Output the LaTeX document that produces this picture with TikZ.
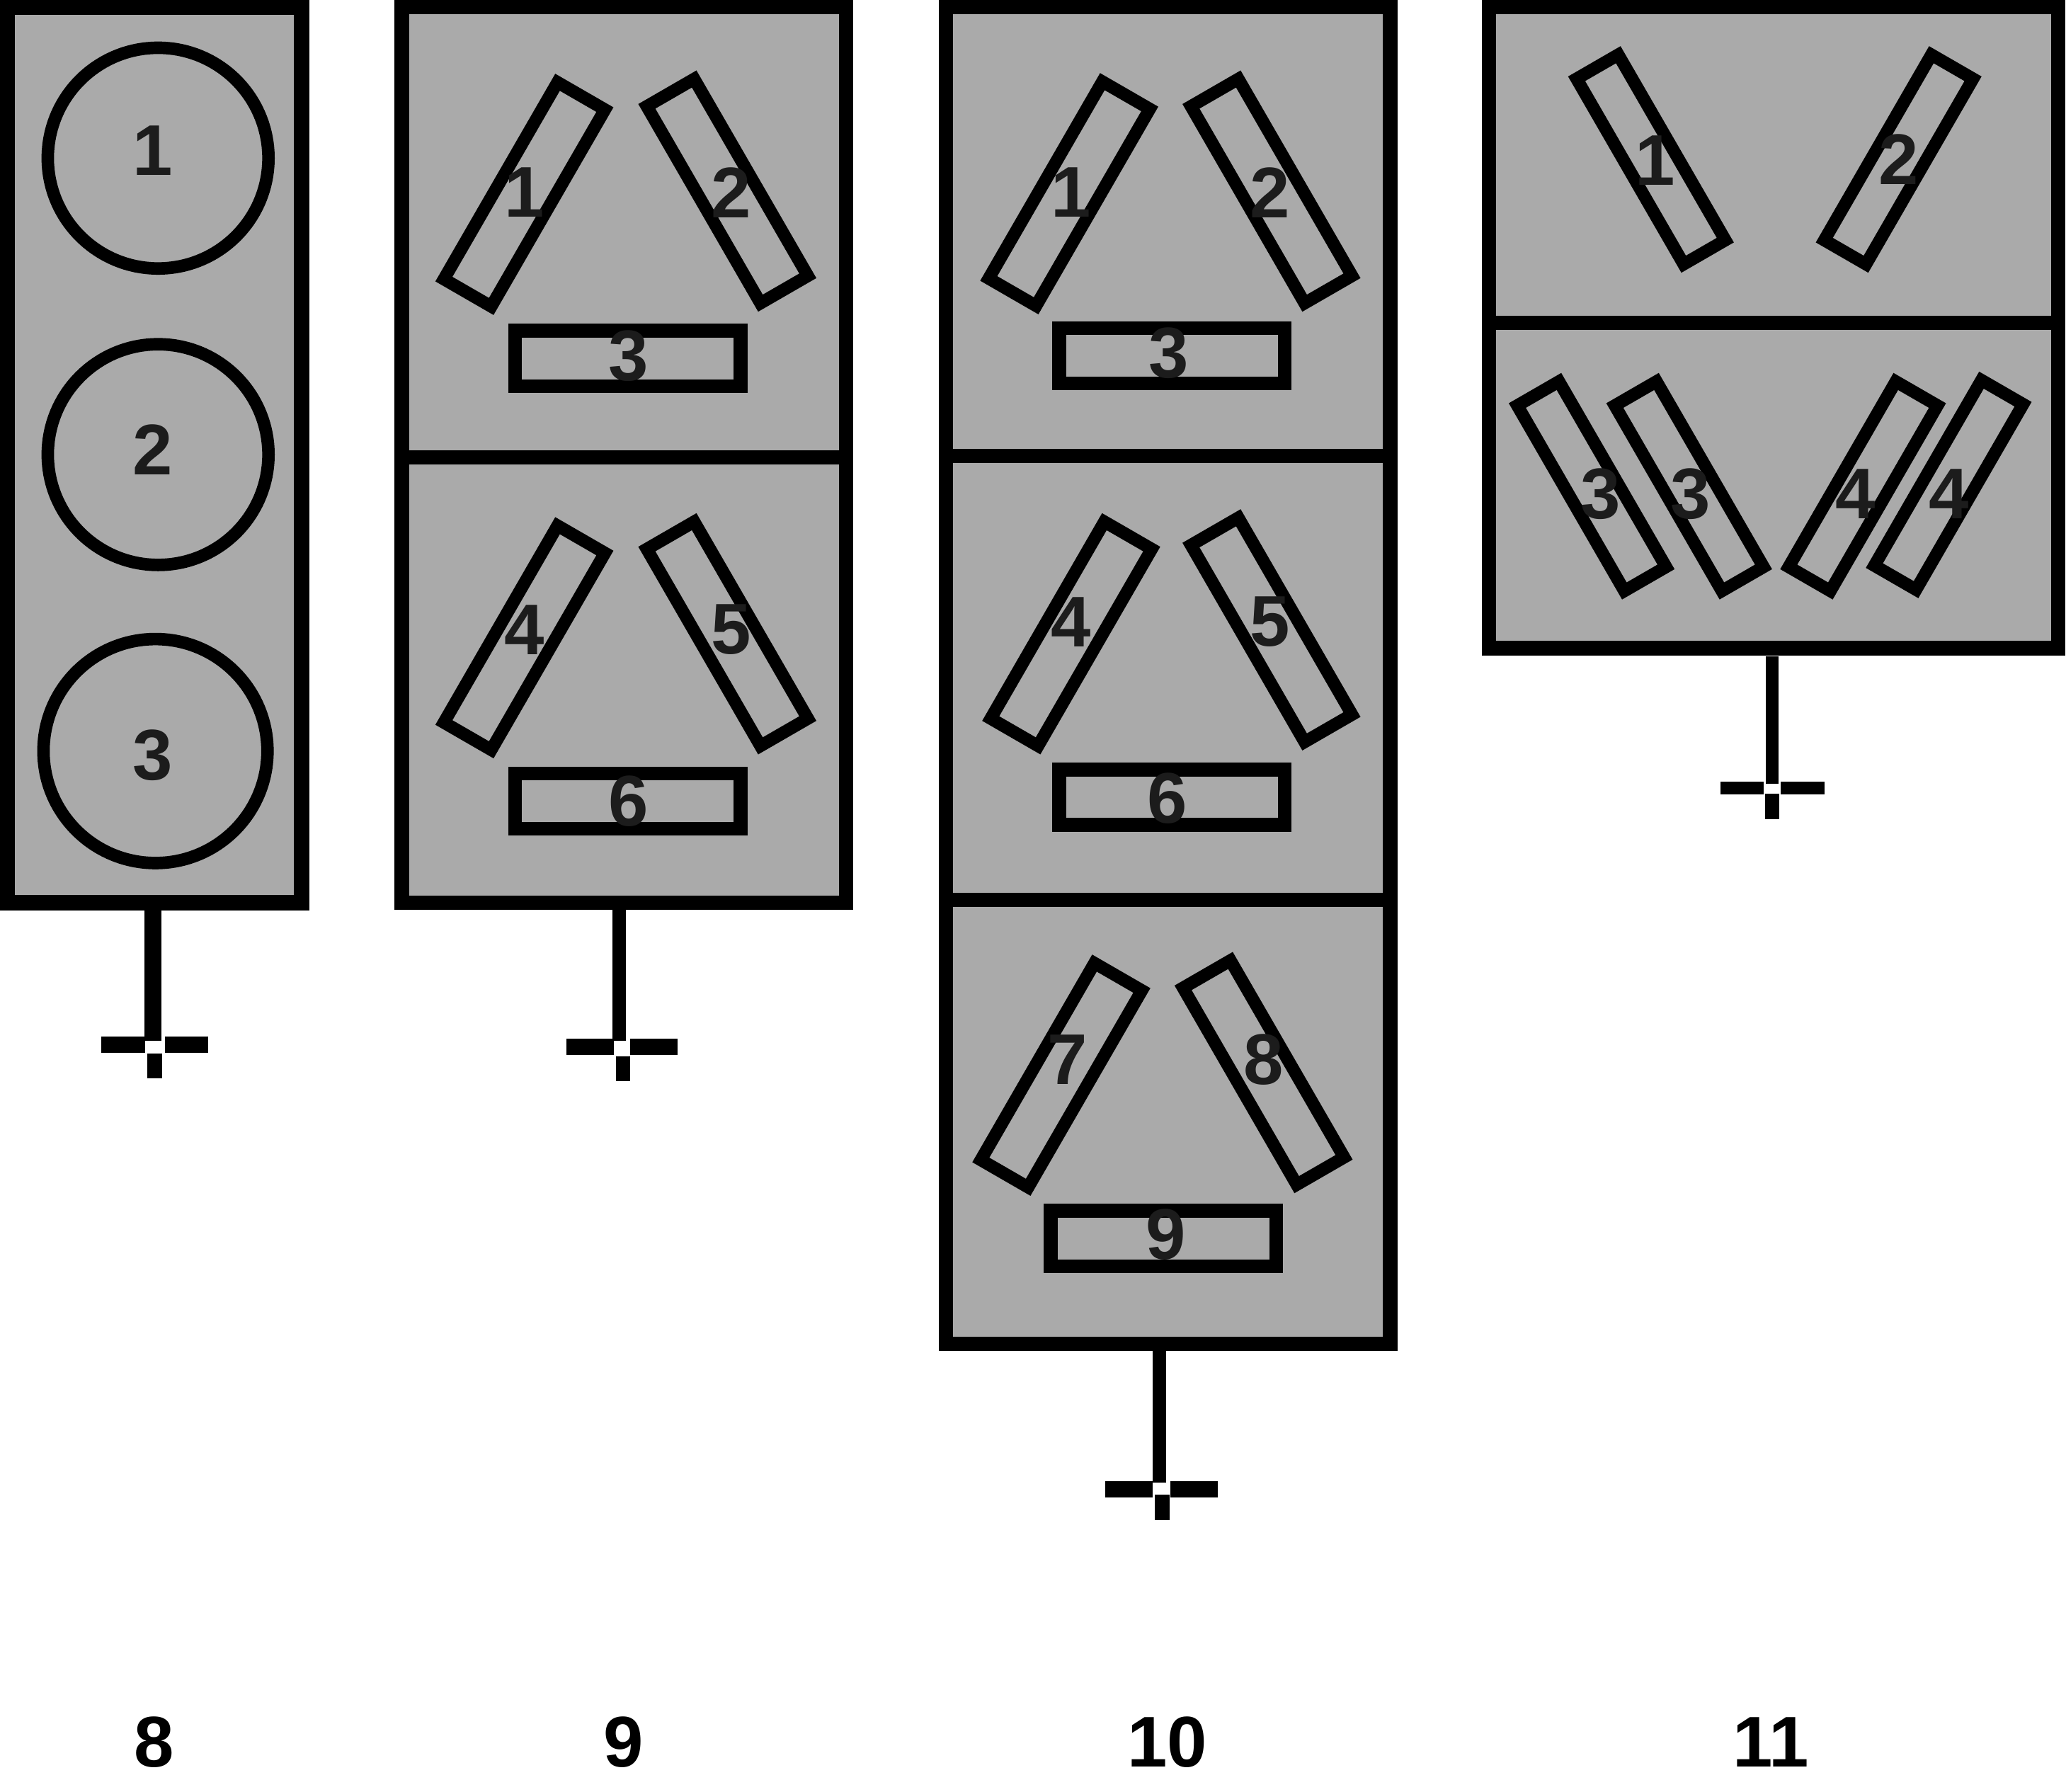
\documentclass[tikz,border=0pt]{standalone}
\usepackage{fontspec}
\setmainfont{Liberation Sans}
\definecolor{cellgray}{HTML}{AAAAAA}
\definecolor{digitblack}{HTML}{1C1C1C}

\begin{document}
\begin{tikzpicture}[x=0.1mm,y=-0.1mm]
  \tikzstyle{cell}=[draw,fill=cellgray,line width=1.1mm,inner sep=0,outer sep=0]
  \tikzstyle{lamp}=[draw,circle,line width=.95mm,minimum size=16.75mm,inner sep=0]
  \tikzstyle{tube}=[draw,line width=.95mm,minimum width=17.25mm,minimum height=4.15mm,inner sep=0]
  \tikzstyle{tubeup}=[tube,rotate=60]
  \tikzstyle{tubedown}=[tube,rotate=-60]
  \tikzstyle{shorttube}=[minimum width=16.25mm,minimum height=3.65mm]
  \tikzstyle{flat}=[draw,line width=1.05mm,minimum width=17.1mm,minimum height=4.2mm,inner sep=0]
  \tikzstyle{digit}=[inner sep=0,text=digitblack,font=\fontsize{15.5}{15.5}\selectfont\bfseries]
  \tikzstyle{caption}=[inner sep=0,font=\fontsize{15.5}{15.5}\selectfont\bfseries]
  \tikzstyle{stem}=[line width=1mm]
  \tikzstyle{bar}=[fill=black,inner sep=0,minimum width=3.3mm,minimum height=1.25mm]
  \tikzstyle{stub}=[fill=black,inner sep=0,minimum width=1.1mm,minimum height=1.9mm]

  \useasboundingbox (0,0) rectangle (1568,1360);

  % first panel
  \node [cell,line width=1.2mm,minimum width=22.35mm,minimum height=68mm] (p8) at (117,345) {};
  \node [lamp] (l8a) at (120,120) {};
  \node [lamp] (l8b) at (120,345) {};
  \node [lamp,minimum size=17mm] (l8c) at (118,570) {};
  \node [digit] (d8a) at (116,114) {1};
  \node [digit] (d8b) at (116,341) {2};
  \node [digit] (d8c) at (116,573) {3};

  % second panel
  \node [cell,minimum width=33.7mm,minimum height=34.2mm] (p9a) at (473.5,176) {};
  \node [cell,minimum width=33.7mm,minimum height=33.8mm] (p9b) at (473.5,516) {};
  \node [tubeup] (t9a) at (398,147.5) {};
  \node [tubedown] (t9b) at (552,145) {};
  \node [flat] (t9c) at (476.5,272) {};
  \node [tubeup] (t9d) at (398,484) {};
  \node [tubedown] (t9e) at (552,481) {};
  \node [flat] (t9f) at (476.5,608) {};
  \node [digit] (d9a) at (398,146) {1};
  \node [digit] (d9b) at (555,146) {2};
  \node [digit] (d9c) at (477,270) {3};
  \node [digit] (d9d) at (398,478) {4};
  \node [digit] (d9e) at (555,478) {5};
  \node [digit] (d9f) at (477,608) {6};

  % third panel
  \node [cell,minimum width=33.7mm,minimum height=34.1mm] (p10a) at (886.5,175.5) {};
  \node [cell,minimum width=33.7mm,minimum height=33.7mm] (p10b) at (886.5,514.5) {};
  \node [cell,minimum width=33.7mm,minimum height=33.7mm] (p10c) at (886.5,851.5) {};
  \node [tubeup] (t10a) at (811.5,147) {};
  \node [tubedown] (t10b) at (965,145) {};
  \node [flat] (t10c) at (889.5,270) {};
  \node [tubeup] (t10d) at (813,481) {};
  \node [tubedown] (t10e) at (965,478) {};
  \node [flat] (t10f) at (889.5,605) {};
  \node [tubeup] (t10g) at (805.5,816) {};
  \node [tubedown] (t10h) at (959,814) {};
  \node [flat] (t10i) at (883,940) {};
  \node [digit] (d10a) at (813,146) {1};
  \node [digit] (d10b) at (964,146) {2};
  \node [digit] (d10c) at (887,268) {3};
  \node [digit] (d10d) at (813,472) {4};
  \node [digit] (d10e) at (964,472) {5};
  \node [digit] (d10f) at (886,606) {6};
  \node [digit] (d10g) at (810,804) {7};
  \node [digit] (d10h) at (959,804) {8};
  \node [digit] (d10i) at (885,937) {9};

  % fourth panel
  \node [cell,minimum width=43.2mm,minimum height=24mm] (p11a) at (1346,125) {};
  \node [cell,minimum width=43.2mm,minimum height=24.7mm] (p11b) at (1346,368.5) {};
  \node [tubedown,shorttube] (t11a) at (1253,121) {};
  \node [tubeup,shorttube] (t11b) at (1441,121) {};
  \node [tubedown,shorttube] (t11c) at (1208,369) {};
  \node [tubedown,shorttube] (t11d) at (1282,369) {};
  \node [tubeup,shorttube] (t11e) at (1414,369) {};
  \node [tubeup,shorttube] (t11f) at (1479,368) {};
  \node [digit] (d11a) at (1256,122) {1};
  \node [digit] (d11b) at (1441,121) {2};
  \node [digit] (d11c) at (1215,375) {3};
  \node [digit] (d11d) at (1283,375) {3};
  \node [digit] (d11e) at (1408,375) {4};
  \node [digit] (d11f) at (1479,375) {4};

  % feet below the panels
  \coordinate (c8) at (116,790);
  \coordinate (c9) at (470,790);
  \coordinate (c10) at (880,1125);
  \coordinate (c11) at (1345,595);
  \coordinate (s11) at (1345,498);
  \path [draw,stem,line width=1.25mm] (p8.south -| c8) -- (c8) ;
  \path [draw,stem] (p9b.south -| c9) -- (c9) ;
  \path [draw,stem] (p10c.south -| c10) -- (c10) ;
  \path [draw,stem] (s11) -- (c11) ;

  \node [bar] (b8l) at (93.5,793) {};
  \node [bar] (b8r) at (141.5,793) {};
  \node [stub] (b8s) at (117.5,809) {};
  \node [bar,minimum width=3.6mm] (b9l) at (448,794.5) {};
  \node [bar,minimum width=3.6mm] (b9r) at (496,794.5) {};
  \node [stub] (b9s) at (473,811) {};
  \node [bar,minimum width=3.6mm] (b10l) at (857,1130.5) {};
  \node [bar,minimum width=3.6mm] (b10r) at (906,1130.5) {};
  \node [stub] (b10s) at (882,1144) {};
  \node [bar,minimum height=1mm] (b11l) at (1322,598) {};
  \node [bar,minimum height=1mm] (b11r) at (1368,598) {};
  \node [stub] (b11s) at (1345,612) {};

  \node [caption] (n8) at (117,1322) {8};
  \node [caption] (n9) at (473,1322) {9};
  \node [caption] (n10) at (886,1322) {10};
  \node [caption] (n11) at (1344,1322) {11};
\end{tikzpicture}
\end{document}
